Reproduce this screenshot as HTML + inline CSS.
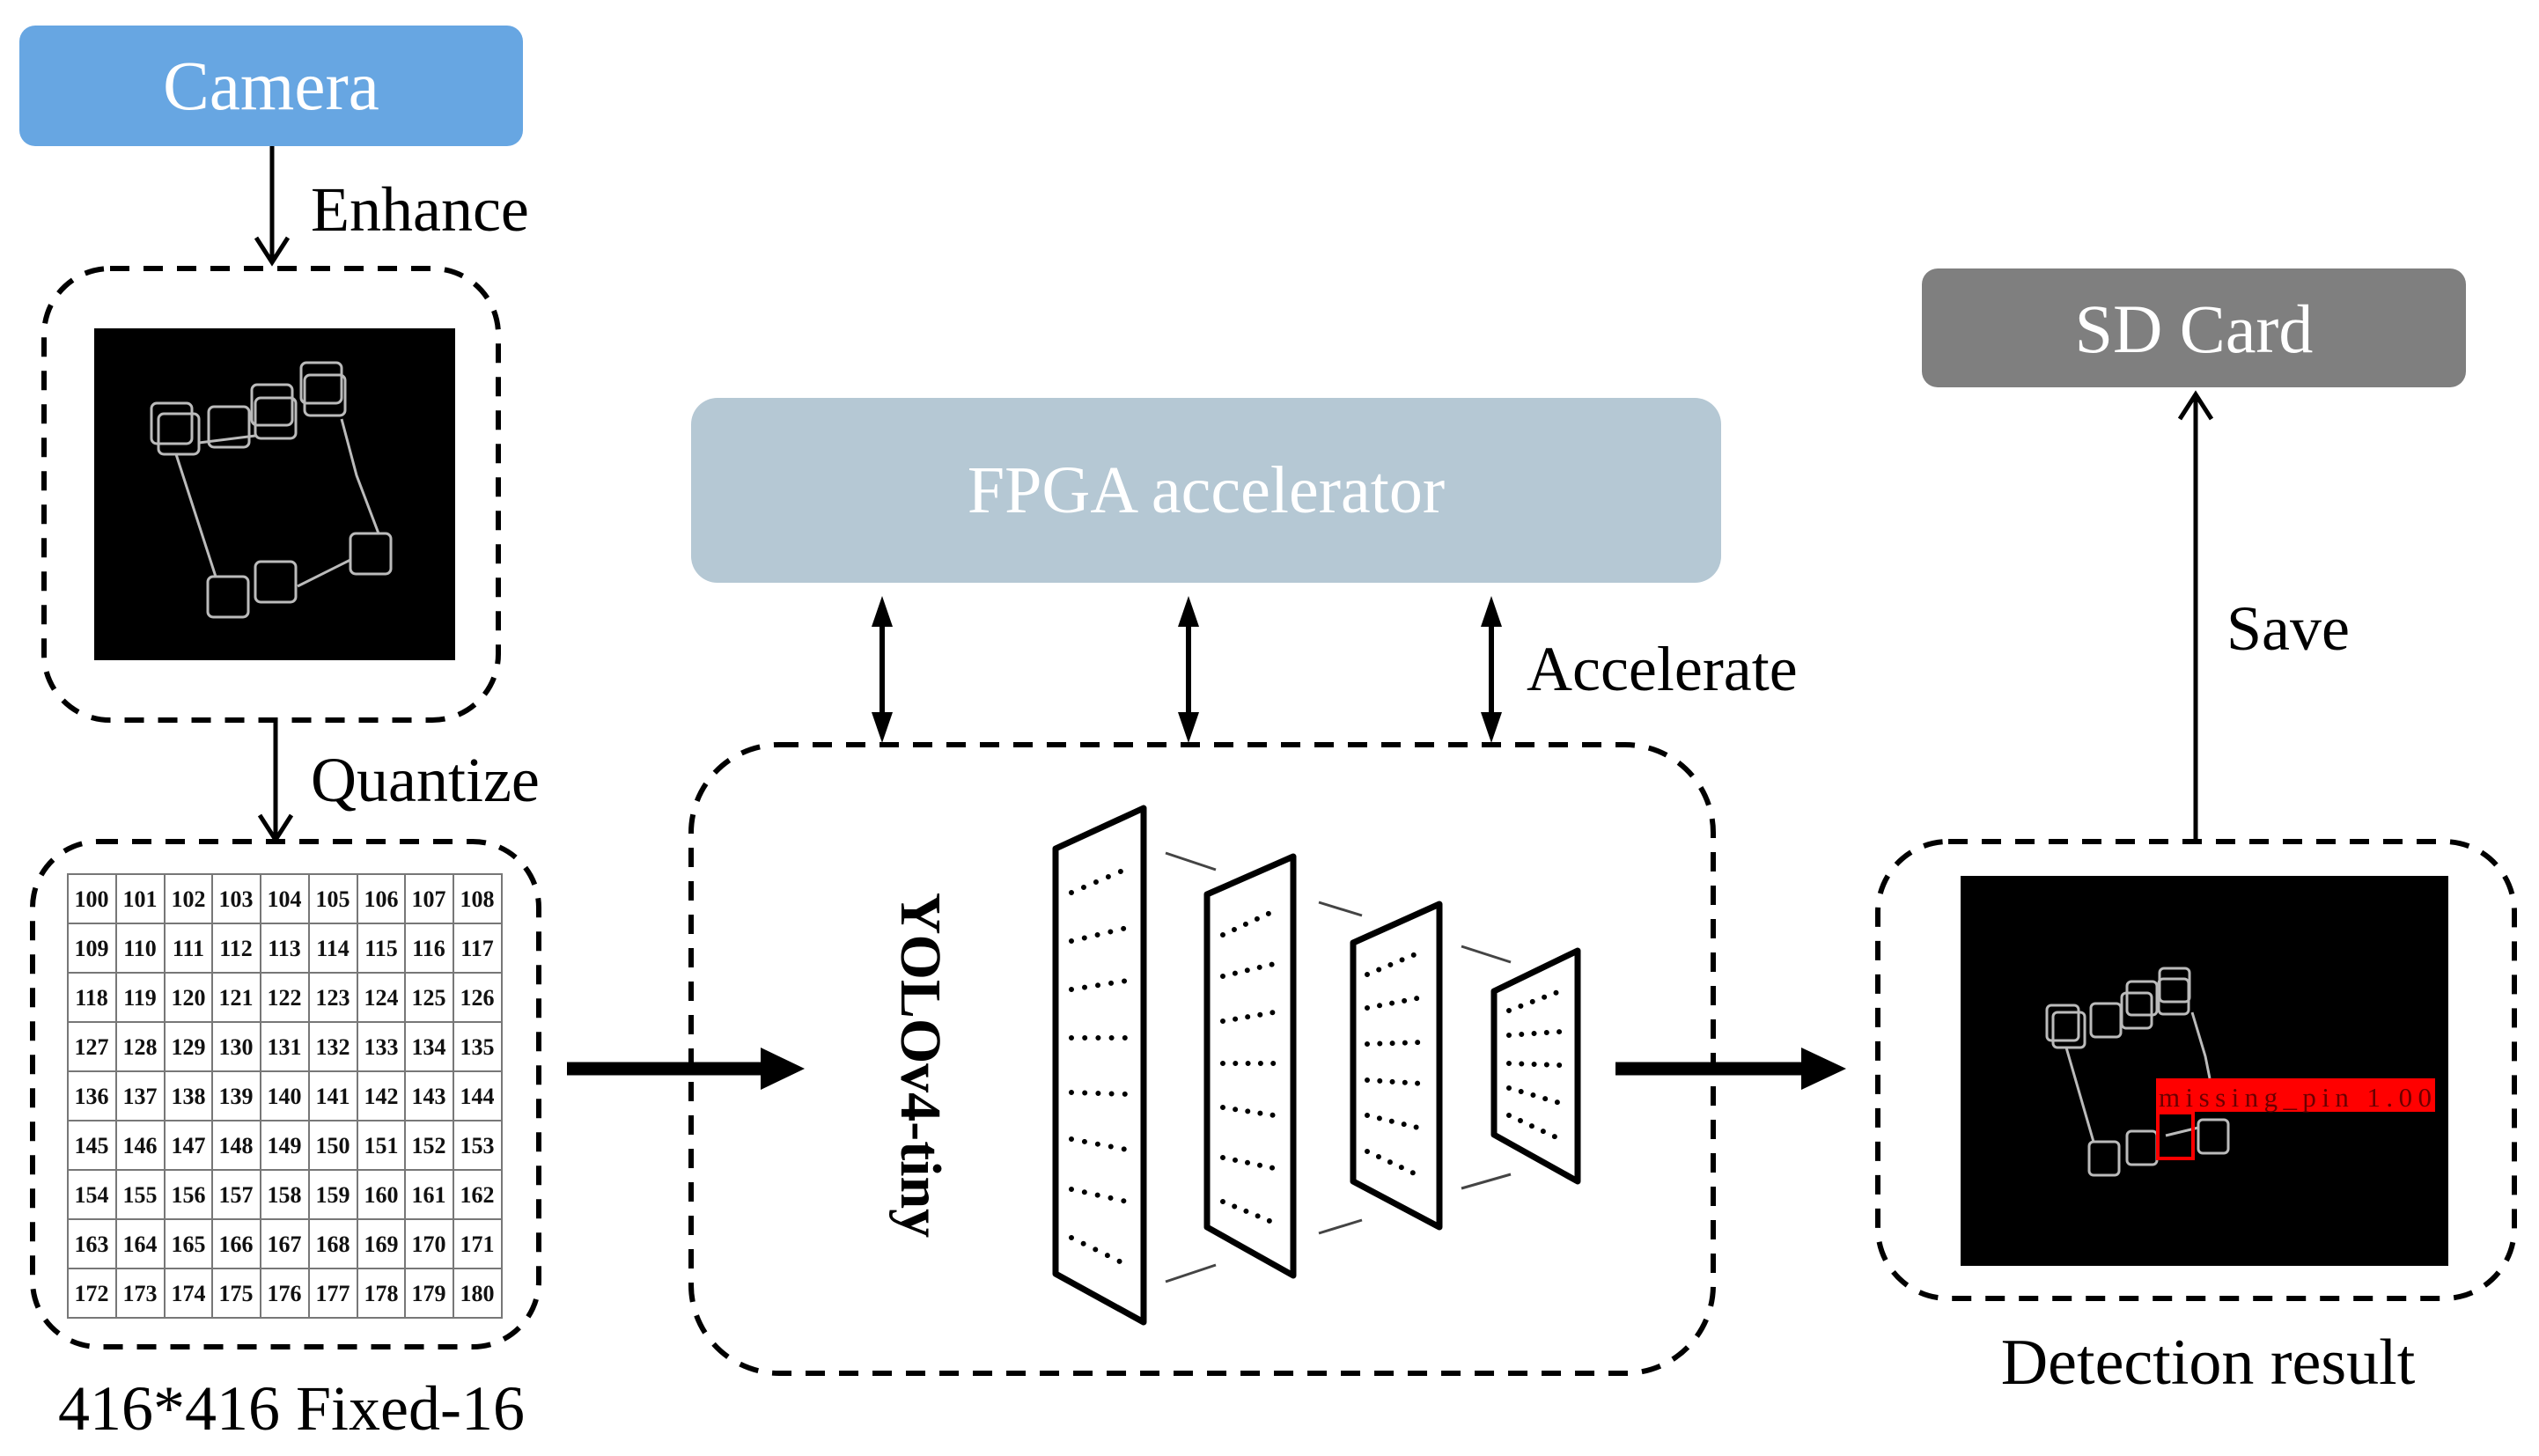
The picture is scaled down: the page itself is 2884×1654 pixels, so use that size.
<!DOCTYPE html>
<html><head><meta charset="utf-8"><style>
html,body{margin:0;padding:0;background:#fff;}
svg{display:block;}
text{font-family:"Liberation Serif",serif;}
</style></head><body>
<svg width="2884" height="1654" viewBox="0 0 2884 1654" xmlns="http://www.w3.org/2000/svg">

<!-- Camera -->
<rect x="22" y="29" width="572" height="137" rx="18" fill="#67a6e2"/>
<text x="308" y="124" font-size="79" fill="#fff" text-anchor="middle">Camera</text>

<!-- Enhance arrow -->
<line x1="309" y1="166" x2="309" y2="296" stroke="#000" stroke-width="5"/>
<polyline points="291,270 309,298 327,270" fill="none" stroke="#000" stroke-width="5"/>
<text x="353" y="262" font-size="72">Enhance</text>

<!-- dashed box 1 -->
<rect x="50" y="305" width="516" height="513" rx="75" fill="none" stroke="#000" stroke-width="6" stroke-dasharray="22 16"/>
<rect x="107" y="373" width="410" height="377" fill="#000"/>
<g fill="none" stroke="#bbb" stroke-width="3">
<rect x="172" y="458" width="46" height="46" rx="6"/>
<rect x="180" y="470" width="46" height="46" rx="6"/>
<rect x="237" y="462" width="46" height="46" rx="6"/>
<rect x="286" y="437" width="46" height="46" rx="6"/>
<rect x="290" y="452" width="46" height="46" rx="6"/>
<rect x="342" y="412" width="46" height="46" rx="6"/>
<rect x="346" y="426" width="46" height="46" rx="6"/>
<rect x="236" y="655" width="46" height="46" rx="6"/>
<rect x="290" y="638" width="46" height="46" rx="6"/>
<rect x="398" y="606" width="46" height="46" rx="6"/>
<polyline points="200,516 245,655"/>
<polyline points="388,476 405,540 430,606"/>
<polyline points="338,666 398,636"/>
<polyline points="226,503 290,495"/>
</g>

<!-- Quantize arrow -->
<line x1="313" y1="818" x2="313" y2="952" stroke="#000" stroke-width="5"/>
<polyline points="295,926 313,954 331,926" fill="none" stroke="#000" stroke-width="5"/>
<text x="353" y="910" font-size="72">Quantize</text>

<!-- dashed box 2 with grid -->
<rect x="37" y="956" width="575" height="574" rx="75" fill="none" stroke="#000" stroke-width="6" stroke-dasharray="22 16"/>
<g stroke="#777" stroke-width="2">
<rect x="77" y="993" width="493" height="504" fill="#fff"/>
<line x1="132" y1="993" x2="132" y2="1497"/><line x1="187" y1="993" x2="187" y2="1497"/><line x1="241" y1="993" x2="241" y2="1497"/><line x1="296" y1="993" x2="296" y2="1497"/><line x1="351" y1="993" x2="351" y2="1497"/><line x1="406" y1="993" x2="406" y2="1497"/><line x1="460" y1="993" x2="460" y2="1497"/><line x1="515" y1="993" x2="515" y2="1497"/>
<line x1="77" y1="1049" x2="570" y2="1049"/><line x1="77" y1="1105" x2="570" y2="1105"/><line x1="77" y1="1161" x2="570" y2="1161"/><line x1="77" y1="1217" x2="570" y2="1217"/><line x1="77" y1="1273" x2="570" y2="1273"/><line x1="77" y1="1329" x2="570" y2="1329"/><line x1="77" y1="1385" x2="570" y2="1385"/><line x1="77" y1="1441" x2="570" y2="1441"/>
</g>
<g font-size="26" font-weight="bold" text-anchor="middle" fill="#111">
<text x="104" y="1030">100</text><text x="159" y="1030">101</text><text x="214" y="1030">102</text><text x="268" y="1030">103</text><text x="323" y="1030">104</text><text x="378" y="1030">105</text><text x="433" y="1030">106</text><text x="487" y="1030">107</text><text x="542" y="1030">108</text>
<text x="104" y="1086">109</text><text x="159" y="1086">110</text><text x="214" y="1086">111</text><text x="268" y="1086">112</text><text x="323" y="1086">113</text><text x="378" y="1086">114</text><text x="433" y="1086">115</text><text x="487" y="1086">116</text><text x="542" y="1086">117</text>
<text x="104" y="1142">118</text><text x="159" y="1142">119</text><text x="214" y="1142">120</text><text x="268" y="1142">121</text><text x="323" y="1142">122</text><text x="378" y="1142">123</text><text x="433" y="1142">124</text><text x="487" y="1142">125</text><text x="542" y="1142">126</text>
<text x="104" y="1198">127</text><text x="159" y="1198">128</text><text x="214" y="1198">129</text><text x="268" y="1198">130</text><text x="323" y="1198">131</text><text x="378" y="1198">132</text><text x="433" y="1198">133</text><text x="487" y="1198">134</text><text x="542" y="1198">135</text>
<text x="104" y="1254">136</text><text x="159" y="1254">137</text><text x="214" y="1254">138</text><text x="268" y="1254">139</text><text x="323" y="1254">140</text><text x="378" y="1254">141</text><text x="433" y="1254">142</text><text x="487" y="1254">143</text><text x="542" y="1254">144</text>
<text x="104" y="1310">145</text><text x="159" y="1310">146</text><text x="214" y="1310">147</text><text x="268" y="1310">148</text><text x="323" y="1310">149</text><text x="378" y="1310">150</text><text x="433" y="1310">151</text><text x="487" y="1310">152</text><text x="542" y="1310">153</text>
<text x="104" y="1366">154</text><text x="159" y="1366">155</text><text x="214" y="1366">156</text><text x="268" y="1366">157</text><text x="323" y="1366">158</text><text x="378" y="1366">159</text><text x="433" y="1366">160</text><text x="487" y="1366">161</text><text x="542" y="1366">162</text>
<text x="104" y="1422">163</text><text x="159" y="1422">164</text><text x="214" y="1422">165</text><text x="268" y="1422">166</text><text x="323" y="1422">167</text><text x="378" y="1422">168</text><text x="433" y="1422">169</text><text x="487" y="1422">170</text><text x="542" y="1422">171</text>
<text x="104" y="1478">172</text><text x="159" y="1478">173</text><text x="214" y="1478">174</text><text x="268" y="1478">175</text><text x="323" y="1478">176</text><text x="378" y="1478">177</text><text x="433" y="1478">178</text><text x="487" y="1478">179</text><text x="542" y="1478">180</text>
</g>
<text x="331" y="1624" font-size="72" text-anchor="middle">416*416 Fixed-16</text>

<!-- input arrow -->
<line x1="644" y1="1214" x2="870" y2="1214" stroke="#000" stroke-width="15"/>
<polygon points="864,1190 914,1214 864,1238" fill="#000"/>

<!-- FPGA -->
<rect x="785" y="452" width="1170" height="210" rx="30" fill="#b5c8d4"/>
<text x="1370" y="582" font-size="76" fill="#fff" text-anchor="middle">FPGA accelerator</text>

<!-- double arrows -->
<g stroke="#000" stroke-width="6">
<line x1="1002" y1="700" x2="1002" y2="820"/>
<line x1="1350" y1="700" x2="1350" y2="820"/>
<line x1="1694" y1="700" x2="1694" y2="820"/>
</g>
<g fill="#000">
<polygon points="1002,677 990,712 1014,712"/><polygon points="1002,844 990,809 1014,809"/>
<polygon points="1350,677 1338,712 1362,712"/><polygon points="1350,844 1338,809 1362,809"/>
<polygon points="1694,677 1682,712 1706,712"/><polygon points="1694,844 1682,809 1706,809"/>
</g>
<text x="1734" y="784" font-size="72">Accelerate</text>

<!-- big dashed box -->
<rect x="785" y="846" width="1161" height="714" rx="100" fill="none" stroke="#000" stroke-width="6" stroke-dasharray="22 16"/>

<text transform="translate(1024,1210) rotate(90)" font-size="66" font-weight="bold" text-anchor="middle">YOLOv4-tiny</text>

<!-- layers -->
<g fill="none" stroke="#000" stroke-width="7" stroke-linejoin="round">
<polygon points="1199,964 1299,918 1299,1502 1199,1447"/>
<polygon points="1371,1016 1469,973 1469,1449 1371,1394"/>
<polygon points="1537,1071 1635,1027 1635,1394 1537,1342"/>
<polygon points="1697,1126 1792,1080 1792,1342 1697,1289"/>
</g>
<g stroke="#444" stroke-width="3">
<line x1="1324" y1="969" x2="1381" y2="988"/><line x1="1324" y1="1456" x2="1381" y2="1437"/>
<line x1="1498" y1="1025" x2="1547" y2="1040"/><line x1="1498" y1="1401" x2="1547" y2="1386"/>
<line x1="1660" y1="1075" x2="1716" y2="1093"/><line x1="1660" y1="1350" x2="1716" y2="1334"/>
</g>
<g stroke="#000" stroke-width="6" stroke-linecap="round" stroke-dasharray="0 15.2">
<line x1="1217" y1="1014" x2="1280" y2="987"/><line x1="1217" y1="1069" x2="1280" y2="1054"/><line x1="1217" y1="1124" x2="1280" y2="1114"/><line x1="1217" y1="1179" x2="1280" y2="1179"/><line x1="1217" y1="1241" x2="1280" y2="1243"/><line x1="1217" y1="1294" x2="1280" y2="1306"/><line x1="1217" y1="1351" x2="1280" y2="1365"/><line x1="1217" y1="1406" x2="1280" y2="1437"/>
</g>
<g stroke="#000" stroke-width="6" stroke-linecap="round" stroke-dasharray="0 14.3">
<line x1="1389" y1="1062" x2="1447" y2="1035"/><line x1="1389" y1="1109" x2="1447" y2="1095"/><line x1="1389" y1="1160" x2="1447" y2="1150"/><line x1="1389" y1="1208" x2="1447" y2="1208"/><line x1="1389" y1="1258" x2="1447" y2="1267"/><line x1="1389" y1="1315" x2="1447" y2="1327"/><line x1="1389" y1="1365" x2="1447" y2="1389"/>
<line x1="1553" y1="1107" x2="1615" y2="1081"/><line x1="1553" y1="1145" x2="1615" y2="1133"/><line x1="1553" y1="1186" x2="1615" y2="1184"/><line x1="1553" y1="1227" x2="1615" y2="1231"/><line x1="1553" y1="1267" x2="1615" y2="1282"/><line x1="1553" y1="1308" x2="1615" y2="1337"/>
<line x1="1714" y1="1148" x2="1772" y2="1126"/><line x1="1714" y1="1176" x2="1772" y2="1172"/><line x1="1714" y1="1208" x2="1772" y2="1210"/><line x1="1714" y1="1236" x2="1772" y2="1253"/><line x1="1714" y1="1267" x2="1772" y2="1294"/>
</g>

<!-- output arrow -->
<line x1="1835" y1="1214" x2="2050" y2="1214" stroke="#000" stroke-width="15"/>
<polygon points="2046,1190 2097,1214 2046,1238" fill="#000"/>

<!-- SD card -->
<rect x="2183" y="305" width="618" height="135" rx="18" fill="#7f7f7f"/>
<text x="2492" y="400" font-size="78" fill="#fff" text-anchor="middle">SD Card</text>

<!-- save arrow -->
<line x1="2494" y1="956" x2="2494" y2="450" stroke="#000" stroke-width="5"/>
<polyline points="2476,476 2494,448 2512,476" fill="none" stroke="#000" stroke-width="5"/>
<text x="2529" y="738" font-size="72">Save</text>

<!-- detection box -->
<rect x="2133" y="956" width="723" height="519" rx="80" fill="none" stroke="#000" stroke-width="6" stroke-dasharray="22 16"/>
<rect x="2227" y="995" width="554" height="443" fill="#000"/>
<g fill="none" stroke="#bbb" stroke-width="3">
<rect x="2325" y="1142" width="36" height="40" rx="5"/>
<rect x="2332" y="1150" width="36" height="40" rx="5"/>
<rect x="2375" y="1140" width="34" height="38" rx="5"/>
<rect x="2410" y="1128" width="34" height="40" rx="5"/>
<rect x="2416" y="1115" width="34" height="38" rx="5"/>
<rect x="2452" y="1112" width="34" height="40" rx="5"/>
<rect x="2453" y="1100" width="34" height="38" rx="5"/>
<rect x="2373" y="1297" width="34" height="38" rx="5"/>
<rect x="2416" y="1285" width="34" height="38" rx="5"/>
<rect x="2497" y="1272" width="34" height="38" rx="5"/>
<polyline points="2347,1190 2378,1297"/>
<polyline points="2490,1150 2505,1200 2510,1225"/>
<polyline points="2460,1290 2497,1281"/>
</g>
<rect x="2449" y="1225" width="317" height="38" fill="#ff0000"/>
<text x="2452" y="1257" font-family="Liberation Mono, monospace" font-size="31" fill="#6a0000" textLength="310">missing_pin 1.00</text>
<rect x="2451" y="1264" width="40" height="52" fill="none" stroke="#ff0000" stroke-width="4"/>
<text x="2508" y="1572" font-size="74" text-anchor="middle">Detection result</text>
</svg>
</body></html>
